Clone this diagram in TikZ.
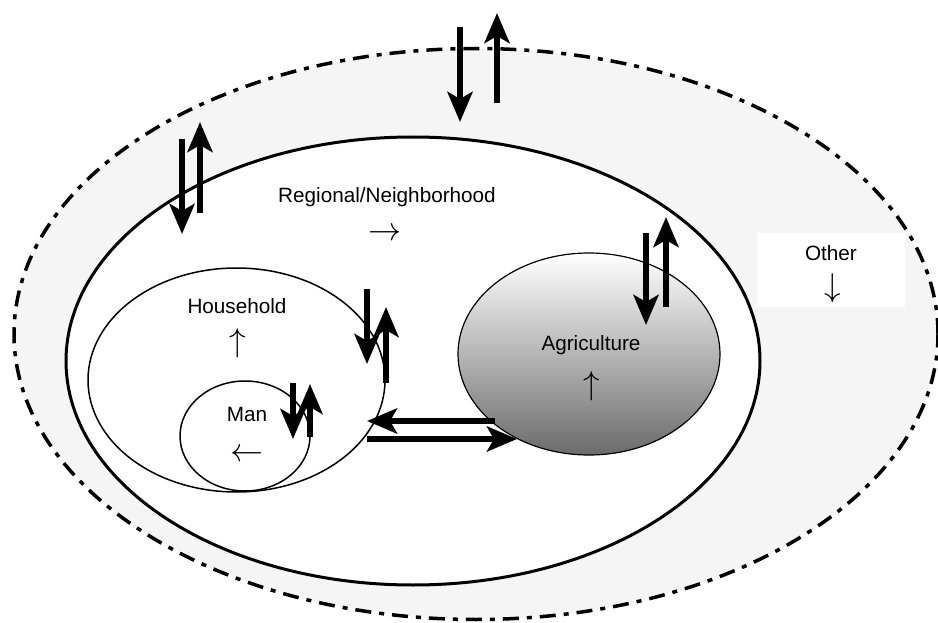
\RequirePackage{fix-cm}
\documentclass[tikz,border=0pt]{standalone}
\usepackage{fontspec}
\setmainfont{Liberation Sans}
\usetikzlibrary{arrows.meta,shapes.geometric}
\tikzset{
  label/.style={inner sep=0pt,font=\fontsize{20.7}{24}\selectfont},
  sign/.style={inner sep=0pt,font=\fontsize{33}{35}\selectfont},
  flow/.style={line width=6pt,-{Stealth[length=30pt,width=25pt,inset=7pt]}},
  ring/.style={ellipse,draw,inner sep=0pt}
}
\begin{document}
\begin{tikzpicture}[x=1pt,y=-1pt]
  \useasboundingbox (0,0) rectangle (938,623);
  % outer region and rings
  \node[ring,fill=black!4,line width=3.5pt,dash pattern=on 16pt off 8pt on 5pt off 8pt,
        minimum width=924pt,minimum height=571pt] (other) at (476,334) {};
  \node[fill=white,minimum width=148pt,minimum height=74pt] (otherbox) at (831,270) {};
  \node[ring,fill=white,line width=3pt,minimum width=694pt,minimum height=448pt] (region) at (413,361) {};
  \node[ring,line width=1.5pt,minimum width=297pt,minimum height=224pt] (house) at (236.5,380) {};
  \node[ring,line width=1.5pt,minimum width=130pt,minimum height=110pt] (man) at (245,436) {};
  \node[ring,line width=1.2pt,top color=white,bottom color=black!58,
        minimum width=262pt,minimum height=202pt] (agri) at (589,354) {};
  % labels
  \node[label] (t1) at (387,197) {Regional/Neighborhood};
  \node[sign] (s1) at (385,234) {$\rightarrow$};
  \node[label] (t2) at (237,306) {Household};
  \node[sign] (s2) at (238,343) {$\uparrow$};
  \node[label] (t3) at (247,414) {Man};
  \node[sign] (s3) at (247,455) {$\leftarrow$};
  \node[label] (t4) at (591,345) {Agriculture};
  \node[sign] (s4) at (592,386) {$\uparrow$};
  \node[label] (t5) at (831,253) {Other};
  \node[sign] (s5) at (833,288) {$\downarrow$};
  % flow ends
  \coordinate (a1) at (460,27);  \coordinate (a2) at (460,122);
  \coordinate (a3) at (497,103); \coordinate (a4) at (497,13);
  \coordinate (b1) at (182,139); \coordinate (b2) at (182,234);
  \coordinate (b3) at (200,213); \coordinate (b4) at (200,122);
  \coordinate (c1) at (367,289); \coordinate (c2) at (367,364);
  \coordinate (c3) at (386,383); \coordinate (c4) at (386,307);
  \coordinate (d1) at (293,383); \coordinate (d2) at (293,439);
  \coordinate (d3) at (310,437); \coordinate (d4) at (310,384);
  \coordinate (e1) at (495,421); \coordinate (e2) at (367,421);
  \coordinate (e3) at (367,439); \coordinate (e4) at (517,439);
  \coordinate (f1) at (646,233); \coordinate (f2) at (646,325);
  \coordinate (f3) at (666,307); \coordinate (f4) at (666,217);
  \begin{scope}[flow]
    \draw (a1) -- (a2);
    \draw (a3) -- (a4);
    \draw (b1) -- (b2);
    \draw (b3) -- (b4);
    \draw (c1) -- (c2);
    \draw (c3) -- (c4);
    \draw (d1) -- (d2);
    \draw (d3) -- (d4);
    \draw (e1) -- (e2);
    \draw (e3) -- (e4);
    \draw (f1) -- (f2);
    \draw (f3) -- (f4);
  \end{scope}
\end{tikzpicture}
\end{document}
